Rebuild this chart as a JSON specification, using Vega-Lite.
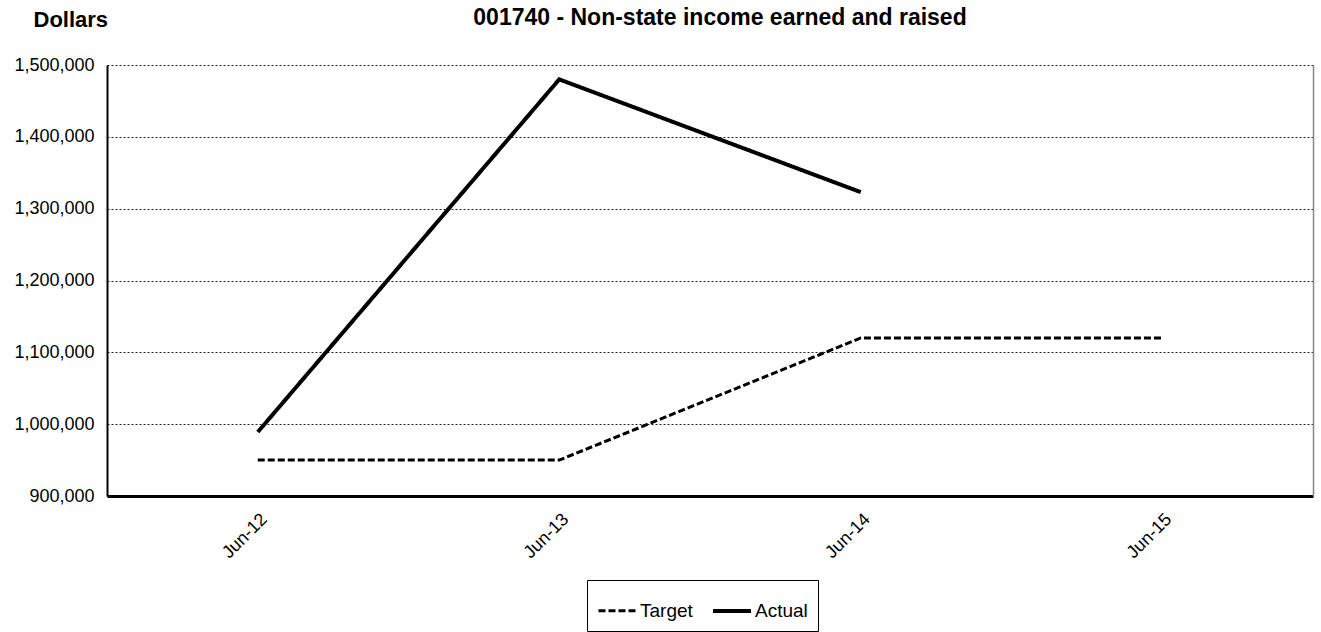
{
  "$schema": "https://vega.github.io/schema/vega-lite/v6.json",
  "width": 1206,
  "height": 431,
  "autosize": {"type": "none"},
  "padding": {"left": 107, "top": 65, "right": 8, "bottom": 136},
  "background": "white",
  "config": {"view": {"stroke": null}, "font": "Liberation Sans"},
  "title": {
    "text": "001740 - Non-state income earned and raised",
    "font": "Liberation Sans",
    "fontSize": 23,
    "fontWeight": "bold",
    "color": "black",
    "anchor": "middle",
    "dx": 10,
    "offset": -40,
    "baseline": "alphabetic"
  },
  "data": {
    "values": [
      {"month": "Jun-12", "series": "Target", "value": 950000},
      {"month": "Jun-13", "series": "Target", "value": 950000},
      {"month": "Jun-14", "series": "Target", "value": 1120000},
      {"month": "Jun-15", "series": "Target", "value": 1120000},
      {"month": "Jun-12", "series": "Actual", "value": 989000},
      {"month": "Jun-13", "series": "Actual", "value": 1480000},
      {"month": "Jun-14", "series": "Actual", "value": 1323000}
    ]
  },
  "layer": [
    {
      "mark": {"type": "line", "color": "black"},
      "encoding": {
        "x": {
          "field": "month",
          "type": "ordinal",
          "sort": null,
          "scale": {"type": "point", "padding": 0.5},
          "axis": {
            "title": null,
            "labelAngle": -45,
            "labelAlign": "right",
            "labelBaseline": "top",
            "labelPadding": 14,
            "labelFontSize": 18,
            "labelColor": "black",
            "labelFont": "Liberation Sans",
            "ticks": false,
            "domainColor": "black",
            "domainWidth": 3,
            "grid": false
          }
        },
        "y": {
          "field": "value",
          "type": "quantitative",
          "scale": {"domain": [900000, 1500000], "nice": false, "zero": false},
          "axis": {
            "values": [900000, 1000000, 1100000, 1200000, 1300000, 1400000, 1500000],
            "format": ",.0f",
            "labelFontSize": 18,
            "labelColor": "black",
            "labelFont": "Liberation Sans",
            "labelPadding": 13,
            "ticks": false,
            "domainColor": "black",
            "domainWidth": 2,
            "grid": true,
            "gridColor": "#222",
            "gridDash": [2, 2],
            "gridWidth": 1,
            "title": "Dollars",
            "titleAngle": 0,
            "titleX": -74,
            "titleY": -39,
            "titleAlign": "left",
            "titleBaseline": "alphabetic",
            "titleFontSize": 22,
            "titleFontWeight": "bold",
            "titleFont": "Liberation Sans",
            "titleColor": "black"
          }
        },
        "strokeDash": {
          "field": "series",
          "type": "nominal",
          "scale": {"domain": ["Target", "Actual"], "range": [[7, 3], [1, 0]]},
          "legend": {
            "title": null,
            "orient": "none",
            "legendX": 480,
            "legendY": 515,
            "direction": "horizontal",
            "strokeColor": "black",
            "fillColor": "white",
            "padding": 10,
            "symbolType": "stroke",
            "symbolSize": 1444,
            "symbolStrokeColor": "black",
            "labelFontSize": 19,
            "labelColor": "black",
            "labelFont": "Liberation Sans",
            "labelOffset": 2,
            "columnPadding": 12
          }
        },
        "strokeWidth": {
          "field": "series",
          "type": "nominal",
          "scale": {"domain": ["Target", "Actual"], "range": [3, 4]},
          "legend": null
        }
      }
    },
    {
      "mark": {"type": "point", "opacity": 0},
      "encoding": {
        "y": {
          "field": "value",
          "type": "quantitative",
          "axis": {
            "orient": "right",
            "labels": false,
            "ticks": false,
            "grid": false,
            "title": null,
            "domainColor": "#888",
            "domainWidth": 1.5
          }
        }
      }
    }
  ],
  "resolve": {"axis": {"y": "independent"}}
}
